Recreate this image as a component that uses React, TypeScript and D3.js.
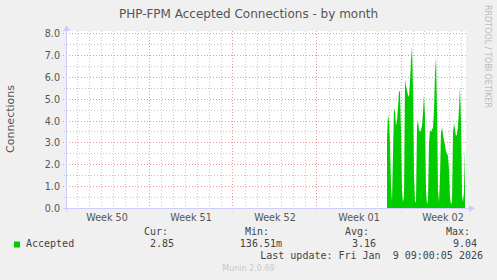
import React from "react";
import * as d3 from "d3";

const seriesName = "Accepted";
const dataStart = Date.UTC(2026, 0, 3, 20, 0); // first sample
const stepMs = 2 * 3600 * 1000; // 2-hour averages
const acceptedValues = [
  3.2, 4.3, 4.0, 3.0, 1.0, 0.3, 2.5, 4.6, 4.4, 3.8,
  4.0, 4.6, 5.4, 5.3, 3.5, 0.8, 0.3, 0.5, 5.9, 5.6,
  5.4, 5.2, 5.1, 5.8, 6.8, 7.4, 5.5, 1.5, 0.3, 0.3,
  3.8, 4.0, 3.6, 3.5, 3.6, 3.8, 4.4, 5.2, 4.2, 0.8,
  0.2, 0.4, 3.0, 3.6, 3.5, 3.6, 3.7, 4.5, 6.2, 6.9,
  4.5, 0.8, 0.3, 1.5, 3.5, 3.7, 3.4, 3.1, 2.9, 2.6,
  2.5, 2.4, 1.8, 0.5, 0.2, 0.3, 3.5, 3.9, 3.6, 3.3,
  3.4, 3.8, 4.6, 5.6, 4.0, 0.6, 0.3, 0.8, 2.8,
];
const yTicks = [0, 1, 2, 3, 4, 5, 6, 7, 8];
const weekStarts = [
  Date.UTC(2025, 11, 8), Date.UTC(2025, 11, 15), Date.UTC(2025, 11, 22),
  Date.UTC(2025, 11, 29), Date.UTC(2026, 0, 5),
];
const weekLabels = ["Week 50", "Week 51", "Week 52", "Week 01", "Week 02"];
const legendHeaders = ["Cur:", "Min:", "Avg:", "Max:"];
const legendValues = ["2.85", "136.51m", "3.16", "9.04"];
const lastUpdate = "Last update: Fri Jan  9 09:00:05 2026";
const title = "PHP-FPM Accepted Connections - by month";
const yLabel = "Connections";
const sideText = "RRDTOOL / TOBI OETIKER";
const footer = "Munin 2.0.69";

const W = 497, H = 280;
const L = 66, R = 466, T = 33.5, B = 208.5;
const domainStart = Date.UTC(2025, 11, 8, 2, 0);
const domainEnd = Date.UTC(2026, 0, 10, 10, 0);

const SANS = "'DejaVu Sans', sans-serif";
const MONO = "'DejaVu Sans Mono', monospace";
const crisp = (v: number) => Math.round(v - 0.5) + 0.5;

export default function App() {
  const x = d3.scaleUtc().domain([domainStart, domainEnd]).range([L, R]);
  const y = d3.scaleLinear().domain([0, 8]).range([B, T]);
  const days = d3.utcDay.range(new Date(domainStart), new Date(domainEnd));
  const mondays = d3.utcMonday.range(new Date(domainStart), new Date(domainEnd));
  const minorY = d3.range(0.5, 8, 1);
  const pts = acceptedValues.map((v, i) => ({ t: dataStart + i * stepMs, v }));
  const area = d3
    .area<{ t: number; v: number }>()
    .x((d) => x(d.t))
    .y0(B)
    .y1((d) => y(d.v));
  const colHeadEnds = [168, 269, 369, 470];
  const colValEnds = [174, 282, 376, 477];
  return (
    <svg width={W} height={H} style={{ display: "block", position: "absolute", left: 0, top: 0 }}>
      <rect x={0} y={0} width={W} height={H} fill="#f0f0f0" />
      <text x={248.5} y={17.5} textAnchor="middle" fontFamily={SANS} fontSize={12} fill="#555">{title}</text>
      <text transform={`translate(484.5,5) rotate(90)`} fontFamily={SANS} fontSize={8} fill="#bbb">{sideText}</text>
      <text transform={`translate(14,119) rotate(-90)`} textAnchor="middle" fontFamily={SANS} fontSize={11} fill="#555">{yLabel}</text>
      <rect x={L} y={31} width={R - L} height={B - 31} fill="#fff" />
      {days.map((d, i) => (
        <line key={"dv" + i} x1={crisp(x(d))} x2={crisp(x(d))} y1={31} y2={B + 2} stroke="#c8c8c8" strokeWidth={1} strokeDasharray="1,2" />
      ))}
      {minorY.map((v, i) => (
        <line key={"hy" + i} x1={L - 2} x2={R} y1={crisp(y(v))} y2={crisp(y(v))} stroke="#c8c8c8" strokeWidth={1} strokeDasharray="1,2" />
      ))}
      {mondays.map((d, i) => (
        <line key={"mv" + i} x1={crisp(x(d))} x2={crisp(x(d))} y1={31} y2={B + 3} stroke="#e89a9a" strokeWidth={1} strokeDasharray="1,2" />
      ))}
      {yTicks.map((v, i) => (
        <line key={"my" + i} x1={L - 3} x2={R} y1={crisp(y(v))} y2={crisp(y(v))} stroke="#e89a9a" strokeWidth={1} strokeDasharray="1,2" />
      ))}
      <path d={area(pts) || ""} fill="#00cc00" />
      <line x1={L + 0.5} x2={L + 0.5} y1={B + 3} y2={30} stroke="#ccccff" strokeWidth={1} />
      <path d={`M${L + 0.5 - 3.5},${31} L${L + 0.5 + 3.5},${31} L${L + 0.5},${25} Z`} fill="#ccccff" />
      <line x1={L - 3} x2={R + 4} y1={B} y2={B} stroke="#ccccff" strokeWidth={1} />
      <path d={`M${R + 3},${B - 3.5} L${R + 3},${B + 3.5} L${R + 9},${B} Z`} fill="#ccccff" />
      {yTicks.map((v, i) => (
        <text key={"yt" + i} x={60} y={y(v) + 3.5} textAnchor="end" fontFamily={SANS} fontSize={9.6} fill="#555">{v.toFixed(1)}</text>
      ))}
      {weekStarts.map((w, i) => (
        <text key={"wk" + i} x={x(w + 3.5 * 86400000)} y={220.5} textAnchor="middle" fontFamily={SANS} fontSize={9.6} fill="#555">{weekLabels[i]}</text>
      ))}
      {legendHeaders.map((h, i) => (
        <text key={"lh" + i} x={colHeadEnds[i]} y={235} textAnchor="end" fontFamily={MONO} fontSize={10} fill="#444">{h}</text>
      ))}
      <rect x={14} y={241.5} width={6} height={6} fill="#00cc00" />
      <text x={26} y={247} fontFamily={MONO} fontSize={10} fill="#444">{seriesName}</text>
      {legendValues.map((v, i) => (
        <text key={"lv" + i} x={colValEnds[i]} y={247} textAnchor="end" fontFamily={MONO} fontSize={10} fill="#444">{v}</text>
      ))}
      <text x={483} y={259} textAnchor="end" fontFamily={MONO} fontSize={10} fill="#444" style={{ whiteSpace: "pre" }}>{lastUpdate}</text>
      <text x={248.5} y={271} textAnchor="middle" fontFamily={SANS} fontSize={8} fill="#c8c8c8">{footer}</text>
    </svg>
  );
}
